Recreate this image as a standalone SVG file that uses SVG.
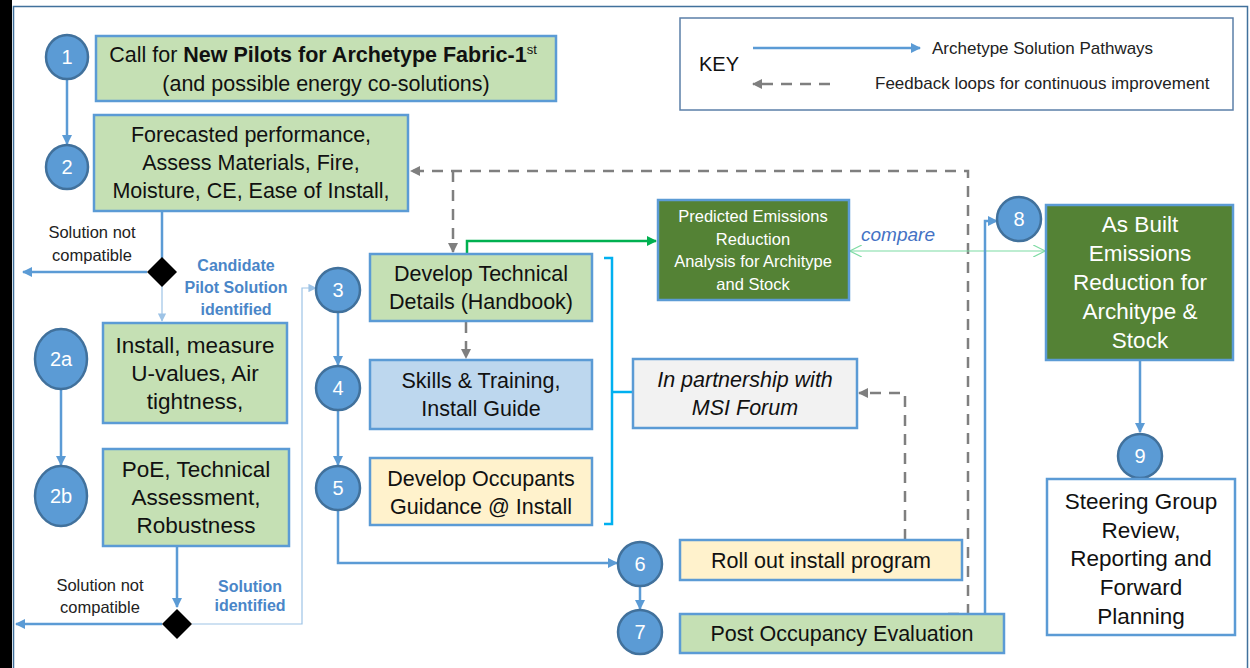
<svg xmlns="http://www.w3.org/2000/svg" width="1250" height="668" viewBox="0 0 1250 668">
<style>
.box{stroke:#5B9BD5;stroke-width:2.5}
.g{fill:#C5E0B4}
.dg{fill:#548235}
.lb{fill:#BDD7EE}
.y{fill:#FFF2CC}
.c{fill:#5B9BD5;stroke:#41719C;stroke-width:2.5}
.ct{font-family:"Liberation Sans",Arial,sans-serif;font-size:20px;fill:#fff;text-anchor:middle}
.t{font-family:"Liberation Sans",Arial,sans-serif;font-size:21.5px;fill:#111;text-anchor:middle}
.tb{font-family:"Liberation Sans",Arial,sans-serif;font-size:22.5px;fill:#111;text-anchor:middle}
.tw{font-family:"Liberation Sans",Arial,sans-serif;fill:#fff;text-anchor:middle}
.s{font-family:"Liberation Sans",Arial,sans-serif;font-size:16.5px;fill:#222;text-anchor:middle}
.sb{font-family:"Liberation Sans",Arial,sans-serif;font-size:16px;font-weight:bold;fill:#4A86C8;text-anchor:middle}
.bl{fill:none;stroke:#5B9BD5;stroke-width:2.5}
.tl{fill:none;stroke:#9DC3E6;stroke-width:1.2}
.gd{fill:none;stroke:#7F7F7F;stroke-width:2.5;stroke-dasharray:11 8}
</style>
<defs>
<marker id="ab" viewBox="0 0 10 10" refX="9" refY="5" markerWidth="4" markerHeight="4" orient="auto" markerUnits="strokeWidth"><path d="M0,0L10,5L0,10z" fill="#5B9BD5"/></marker>
<marker id="al" viewBox="0 0 10 10" refX="9" refY="5" markerWidth="7" markerHeight="7" orient="auto" markerUnits="strokeWidth"><path d="M0,0L10,5L0,10z" fill="#9DC3E6"/></marker>
<marker id="ag" viewBox="0 0 10 10" refX="9" refY="5" markerWidth="4" markerHeight="4" orient="auto" markerUnits="strokeWidth"><path d="M0,0L10,5L0,10z" fill="#7F7F7F"/></marker>
<marker id="agr" viewBox="0 0 10 10" refX="9" refY="5" markerWidth="4" markerHeight="4" orient="auto" markerUnits="strokeWidth"><path d="M0,0L10,5L0,10z" fill="#00B050"/></marker>
<marker id="ac" viewBox="0 0 10 10" refX="9" refY="5" markerWidth="10" markerHeight="10" orient="auto-start-reverse" markerUnits="strokeWidth"><path d="M0,0L10,5L0,10" fill="none" stroke="#7DDBA3" stroke-width="1"/></marker>
</defs>
<rect width="1250" height="668" fill="#fff"/>
<rect x="0" y="0" width="12" height="668" fill="#000"/>
<rect x="13.5" y="6.5" width="1234" height="680" fill="none" stroke="#41719C" stroke-width="1.5"/>

<g id="key">
<rect x="680" y="18" width="553" height="92" fill="#fff" stroke="#5B7FA8" stroke-width="1.5"/>
<text x="719" y="71" font-family="Liberation Sans,Arial,sans-serif" font-size="20" fill="#111" text-anchor="middle">KEY</text>
<line x1="753" y1="48" x2="920" y2="48" class="bl" marker-end="url(#ab)"/>
<line x1="830" y1="84" x2="753" y2="84" class="gd" marker-end="url(#ag)"/>
<text x="932" y="54" font-family="Liberation Sans,Arial,sans-serif" font-size="17" fill="#222">Archetype Solution Pathways</text>
<text x="875" y="89" font-family="Liberation Sans,Arial,sans-serif" font-size="17" fill="#222">Feedback loops for continuous improvement</text>
</g>

<g id="connectors">
<line x1="67" y1="79" x2="67" y2="144" class="bl" marker-end="url(#ab)"/>
<line x1="162" y1="211" x2="162" y2="258" class="bl"/>
<line x1="147" y1="272" x2="23" y2="272" class="bl" marker-end="url(#ab)"/>
<line x1="162" y1="286" x2="162" y2="321" class="tl" marker-end="url(#al)"/>
<line x1="61" y1="389" x2="61" y2="465" class="bl" marker-end="url(#ab)"/>
<line x1="177" y1="546" x2="177" y2="607" class="bl" marker-end="url(#ab)"/>
<line x1="162" y1="624" x2="16" y2="624" class="bl" marker-end="url(#ab)"/>
<polyline points="192,624 302,624 302,288 316,288" class="tl" marker-end="url(#al)"/>
<line x1="338" y1="312" x2="338" y2="365" class="bl" marker-end="url(#ab)"/>
<line x1="338" y1="410" x2="338" y2="465" class="bl" marker-end="url(#ab)"/>
<polyline points="338,510 338,563 617,563" class="bl" marker-end="url(#ab)"/>
<line x1="640" y1="586" x2="640" y2="609" class="bl" marker-end="url(#ab)"/>
<polyline points="604,258 612,258 612,524 604,524" fill="none" stroke="#00B0F0" stroke-width="2.5"/>
<line x1="612" y1="392" x2="633" y2="392" stroke="#00B0F0" stroke-width="2.5"/>
<polyline points="905,540 905,393 859,393" class="gd" marker-end="url(#ag)"/>
<polyline points="948,614 968,614 968,171 411,171" class="gd" marker-end="url(#ag)"/>
<line x1="453" y1="171" x2="453" y2="252" class="gd" marker-end="url(#ag)"/>
<line x1="466" y1="322" x2="466" y2="358" class="gd" marker-end="url(#ag)"/>
<polyline points="467,254 467,241 656,241" fill="none" stroke="#00B050" stroke-width="2.5" marker-end="url(#agr)"/>
<line x1="851" y1="251" x2="1044" y2="251" stroke="#7DDBA3" stroke-width="1.2" marker-start="url(#ac)" marker-end="url(#ac)"/>
<polyline points="985,614 985,221 997,221" class="bl" marker-end="url(#ab)"/>
<line x1="1140" y1="361" x2="1140" y2="432" class="bl" marker-end="url(#ab)"/>
<text x="898" y="241" font-family="Liberation Sans,Arial,sans-serif" font-size="19" font-style="italic" fill="#4472C4" text-anchor="middle">compare</text>
</g>

<g id="n1">
<ellipse cx="67" cy="57" rx="21" ry="22" class="c"/><text x="67" y="64" class="ct">1</text>
<rect x="96" y="36" width="460" height="65" class="box g"/>
<text x="323" y="62" class="t">Call for <tspan font-weight="bold">New Pilots for Archetype Fabric-1</tspan><tspan font-size="13" dy="-8">st</tspan></text>
<text x="326" y="91" class="t">(and possible energy co-solutions)</text>
</g>
<g id="n2">
<ellipse cx="67" cy="167" rx="21" ry="22" class="c"/><text x="67" y="174" class="ct">2</text>
<rect x="94" y="115" width="314" height="96" class="box g"/>
<text x="251" y="142" class="t">Forecasted performance,</text>
<text x="251" y="170" class="t">Assess Materials, Fire,</text>
<text x="251" y="198" class="t">Moisture, CE, Ease of Install,</text>
</g>
<g id="d1">
<path d="M162,257 L177,272 L162,287 L147,272z" fill="#000"/>
<text x="92" y="238" class="s">Solution not</text>
<text x="92" y="261" class="s">compatible</text>
<text x="236" y="271" class="sb">Candidate</text>
<text x="236" y="293" class="sb">Pilot Solution</text>
<text x="236" y="315" class="sb">identified</text>
</g>
<g id="n2a">
<ellipse cx="61" cy="359" rx="26" ry="30" class="c"/><text x="61" y="366" class="ct">2a</text>
<rect x="103" y="323" width="184" height="100" class="box g"/>
<text x="195" y="353" class="tb">Install, measure</text>
<text x="195" y="381" class="tb">U-values, Air</text>
<text x="195" y="409" class="tb">tightness,</text>
</g>
<g id="n2b">
<ellipse cx="61" cy="496" rx="26" ry="30" class="c"/><text x="61" y="503" class="ct">2b</text>
<rect x="103" y="449" width="186" height="97" class="box g"/>
<text x="196" y="477" class="tb">PoE, Technical</text>
<text x="196" y="505" class="tb">Assessment,</text>
<text x="196" y="533" class="tb">Robustness</text>
</g>
<g id="d2">
<path d="M177,609 L192,624 L177,639 L162,624z" fill="#000"/>
<text x="100" y="591" class="s">Solution not</text>
<text x="100" y="613" class="s">compatible</text>
<text x="250" y="592" class="sb" font-size="14">Solution</text>
<text x="250" y="611" class="sb" font-size="14">identified</text>
</g>
<g id="n3">
<ellipse cx="338" cy="290" rx="22" ry="22" class="c"/><text x="338" y="297" class="ct">3</text>
<rect x="370" y="254" width="222" height="67" class="box g"/>
<text x="481" y="281" class="t">Develop Technical</text>
<text x="481" y="309" class="t">Details (Handbook)</text>
</g>
<g id="n4">
<ellipse cx="338" cy="388" rx="22" ry="22" class="c"/><text x="338" y="395" class="ct">4</text>
<rect x="370" y="360" width="222" height="69" class="box lb"/>
<text x="481" y="388" class="t">Skills &amp; Training,</text>
<text x="481" y="416" class="t">Install Guide</text>
</g>
<g id="n5">
<ellipse cx="338" cy="488" rx="22" ry="22" class="c"/><text x="338" y="495" class="ct">5</text>
<rect x="370" y="458" width="222" height="67" class="box y"/>
<text x="481" y="486" class="t">Develop Occupants</text>
<text x="481" y="514" class="t">Guidance @ Install</text>
</g>
<g id="msi">
<rect x="633" y="359" width="224" height="69" fill="#F2F2F2" class="box"/>
<text x="745" y="387" class="t" font-style="italic">In partnership with</text>
<text x="745" y="415" class="t" font-style="italic">MSI Forum</text>
</g>
<g id="n6">
<ellipse cx="640" cy="564" rx="22" ry="22" class="c"/><text x="640" y="571" class="ct">6</text>
<rect x="680" y="540" width="282" height="40" class="box y"/>
<text x="821" y="568" class="t">Roll out install program</text>
</g>
<g id="n7">
<ellipse cx="640" cy="632" rx="22" ry="22" class="c"/><text x="640" y="639" class="ct">7</text>
<rect x="680" y="614" width="324" height="39" class="box g"/>
<text x="842" y="641" class="t">Post Occupancy Evaluation</text>
</g>
<g id="pred">
<rect x="658" y="200" width="191" height="100" class="box dg"/>
<text x="753" y="222" class="tw" font-size="16.5">Predicted Emissions</text>
<text x="753" y="245" class="tw" font-size="16.5">Reduction</text>
<text x="753" y="267" class="tw" font-size="16.5">Analysis for Architype</text>
<text x="753" y="290" class="tw" font-size="16.5">and Stock</text>
</g>
<g id="n8">
<ellipse cx="1019" cy="219" rx="22" ry="22" class="c"/><text x="1019" y="226" class="ct">8</text>
<rect x="1046" y="205" width="187" height="155" class="box dg"/>
<text x="1140" y="232" class="tw" font-size="22.5">As Built</text>
<text x="1140" y="261" class="tw" font-size="22.5">Emissions</text>
<text x="1140" y="290" class="tw" font-size="22.5">Reduction for</text>
<text x="1140" y="319" class="tw" font-size="22.5">Architype &amp;</text>
<text x="1140" y="348" class="tw" font-size="22.5">Stock</text>
</g>
<g id="n9">
<ellipse cx="1140" cy="456" rx="22" ry="22" class="c"/><text x="1140" y="463" class="ct">9</text>
<rect x="1047" y="479" width="188" height="156" fill="#fff" class="box"/>
<text x="1141" y="509" class="tb">Steering Group</text>
<text x="1141" y="538" class="tb">Review,</text>
<text x="1141" y="566" class="tb">Reporting and</text>
<text x="1141" y="595" class="tb">Forward</text>
<text x="1141" y="624" class="tb">Planning</text>
</g>
</svg>
